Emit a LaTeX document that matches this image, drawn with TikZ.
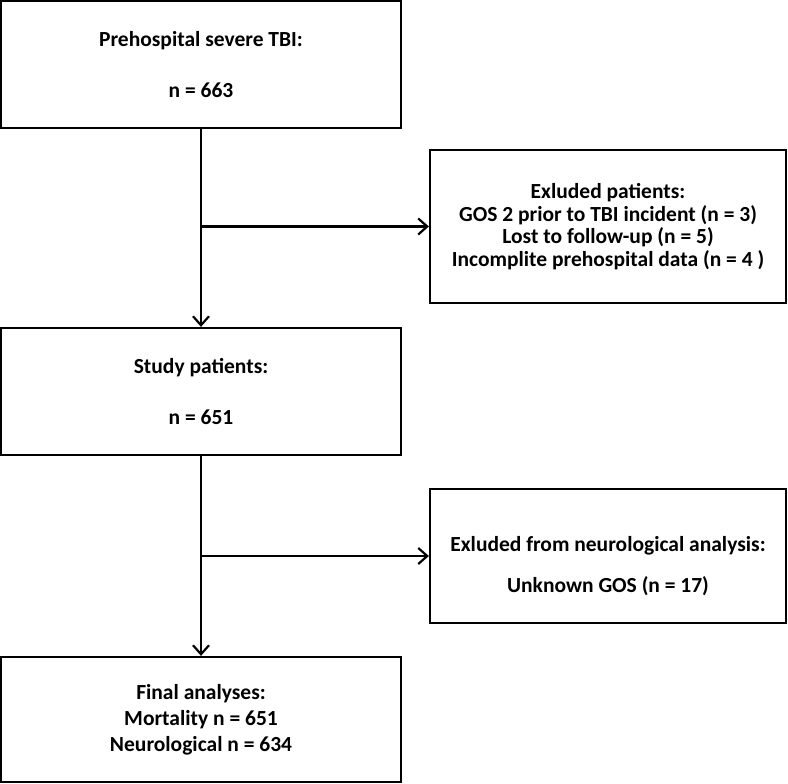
\documentclass[tikz,border=0pt]{standalone}
\usepackage{fontspec}
\setmainfont{Carlito}
\usetikzlibrary{arrows.meta,positioning}

\tikzset{
  flowbox/.style={draw, line width=2.2pt, minimum width=400pt, minimum height=127pt, align=center, font=\bfseries\fontsize{21.5}{25.5}\selectfont},
  sidebox/.style={draw, line width=2.2pt, minimum width=356pt, align=center, font=\bfseries\fontsize{21.5}{22.5}\selectfont},
  flowarrow/.style={line width=2.2pt, -{Straight Barb[length=9pt,width=16pt,line width=2.2pt]}}
}

\begin{document}
\begin{tikzpicture}[x=1pt, y=-1pt]
\useasboundingbox (0,0) rectangle (788,784);
% main column
\node [flowbox] (tbi) at (201,64.5) {Prehospital severe TBI:\\[25.5pt] n = 663};
\node [flowbox] (study) at (201,391.5) {Study patients:\\[25.5pt] n = 651};
\node [flowbox, minimum height=125pt, font=\bfseries\fontsize{21.5}{26}\selectfont] (final) at (201,719.5) {Final analyses:\\ Mortality n = 651\\ Neurological n = 634};
% exclusions
\node [sidebox, minimum height=153pt] (excl1) at (608,226.5) {Exluded patients:\\ GOS 2 prior to TBI incident (n = 3)\\ Lost to follow-up (n = 5)\\ Incomplite prehospital data (n = 4 )};
\node [sidebox, minimum height=134pt] (excl2) at (608,556) {};
\node [align=center, font=\bfseries\fontsize{21.5}{22.5}\selectfont] (excl2text) at (608,566) {Exluded from neurological analysis:\\[18.5pt] Unknown GOS (n = 17)};
% arrows
\coordinate (split1) at (tbi.south |- excl1.west);
\coordinate (split2) at (study.south |- excl2.west);
\draw [flowarrow] (tbi) -- (study);
\draw [flowarrow] (study) -- (final);
\draw [flowarrow] (split1) -- (excl1);
\draw [flowarrow] (split2) -- (excl2);
\end{tikzpicture}
\end{document}
